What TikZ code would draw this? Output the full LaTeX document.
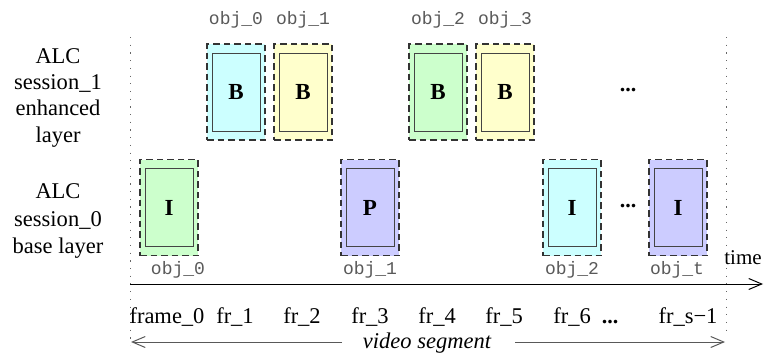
\documentclass[tikz,border=0pt]{standalone}
\usepackage{fontspec}
\setmainfont{Liberation Serif}
\setmonofont{Liberation Mono}
\usetikzlibrary{arrows.meta}
\definecolor{fcyan}{HTML}{CCFFFF}
\definecolor{fyellow}{HTML}{FFFFCC}
\definecolor{fgreen}{HTML}{CCFFCC}
\definecolor{fblue}{HTML}{CCCCFF}
\definecolor{edge}{HTML}{333333}
\definecolor{iedge}{HTML}{444444}
\tikzset{
  outerbox/.style={draw=edge, line width=1.3pt, dash pattern=on 6.5pt off 4pt, minimum width=58pt, minimum height=96pt, inner sep=0pt},
  innerbox/.style={draw=iedge, line width=1pt, minimum width=48pt, minimum height=78pt, inner sep=0pt, font=\fontsize{23}{26}\selectfont\bfseries},
  objlbl/.style={font=\ttfamily\fontsize{18}{20}\selectfont, text=black!65, inner sep=0pt},
  frlbl/.style={font=\fontsize{22.5}{26}\selectfont, inner sep=0pt, anchor=base},
  sidelbl/.style={font=\fontsize{22.5}{26.5}\selectfont, inner sep=0pt, anchor=base},
  dotslbl/.style={font=\fontsize{22}{26}\selectfont\bfseries, inner sep=0pt},
  guide/.style={draw=black!60, line width=1pt, dash pattern=on 1.2pt off 6.5pt},
  barb/.style={-{Straight Barb[length=13pt,width=11pt,line width=1pt]}, line width=1pt}
}
\begin{document}
\begin{tikzpicture}[x=1pt,y=-1pt]
\useasboundingbox (0,0) rectangle (767,356);
% guides
\coordinate (gl1) at (130,37); \coordinate (gl2) at (130,345);
\coordinate (gr1) at (726,37); \coordinate (gr2) at (726,330);
\draw[guide] (gl1) -- (gl2);
\draw[guide] (gr1) -- (gr2);
% side labels
\node[sidelbl] (s1a) at (58,63) {ALC};
\node[sidelbl] (s1b) at (58,89.5) {session\_1};
\node[sidelbl] (s1c) at (58,115.5) {enhanced};
\node[sidelbl] (s1d) at (58,142) {layer};
\node[sidelbl] (s0a) at (58,198) {ALC};
\node[sidelbl] (s0b) at (58,226) {session\_0};
\node[sidelbl] (s0c) at (58,253) {base layer};
% top row
\node[outerbox, fill=fcyan] (t0) at (236,92) {};
\node[innerbox, fill=fcyan] (t0i) at (236,92) {B};
\node[outerbox, fill=fyellow] (t1) at (303,92) {};
\node[innerbox, fill=fyellow] (t1i) at (303,92) {B};
\node[outerbox, fill=fgreen] (t2) at (438,92) {};
\node[innerbox, fill=fgreen] (t2i) at (438,92) {B};
\node[outerbox, fill=fyellow] (t3) at (505,92) {};
\node[innerbox, fill=fyellow] (t3i) at (505,92) {B};
\node[dotslbl] (tdots) at (628,90) {...};
\node[objlbl] (lt0) at (236,20) {obj\_0};
\node[objlbl] (lt1) at (303,20) {obj\_1};
\node[objlbl] (lt2) at (438,20) {obj\_2};
\node[objlbl] (lt3) at (505,20) {obj\_3};
% bottom row
\node[outerbox, fill=fgreen] (b0) at (169,207.5) {};
\node[innerbox, fill=fgreen] (b0i) at (169,207.5) {I};
\node[outerbox, fill=fblue] (b1) at (370,207.5) {};
\node[innerbox, fill=fblue] (b1i) at (370,207.5) {P};
\node[outerbox, fill=fcyan] (b2) at (572,207.5) {};
\node[innerbox, fill=fcyan] (b2i) at (572,207.5) {I};
\node[outerbox, fill=fblue] (b3) at (678,207.5) {};
\node[innerbox, fill=fblue] (b3i) at (678,207.5) {I};
\node[dotslbl] (bdots) at (628,206) {...};
\node[objlbl] (lb0) at (178,270) {obj\_0};
\node[objlbl] (lb1) at (370,270) {obj\_1};
\node[objlbl] (lb2) at (572,270) {obj\_2};
\node[objlbl] (lb3) at (677,270) {obj\_t};
% time axis
\coordinate (ta) at (130,284); \coordinate (tb) at (763,284);
\draw[barb] (ta) -- (tb);
\node[font=\fontsize{21}{24}\selectfont, inner sep=0pt] (time) at (743,258) {time};
% frame labels
\node[frlbl] (f0) at (167,323.5) {frame\_0};
\node[frlbl] (f1) at (235,323.5) {fr\_1};
\node[frlbl] (f2) at (302,323.5) {fr\_2};
\node[frlbl] (f3) at (370,323.5) {fr\_3};
\node[frlbl] (f4) at (437,323.5) {fr\_4};
\node[frlbl] (f5) at (504,323.5) {fr\_5};
\node[frlbl] (f6) at (572,323.5) {fr\_6};
\node[frlbl, font=\fontsize{22}{26}\selectfont\bfseries] (fdots) at (610,323.5) {...};
\node[frlbl] (fs) at (688,323.5) {fr\_s\textminus1};
% video segment
\node[font=\fontsize{22.5}{26}\selectfont\itshape, inner sep=0pt] (vs) at (427,343) {video segment};
\coordinate (vl) at (131,342); \coordinate (vr) at (725,342);
\coordinate (vla) at (342,342); \coordinate (vra) at (515,342);
\draw[barb, draw=black!65] (vla) -- (vl);
\draw[barb, draw=black!65] (vra) -- (vr);
\end{tikzpicture}
\end{document}
